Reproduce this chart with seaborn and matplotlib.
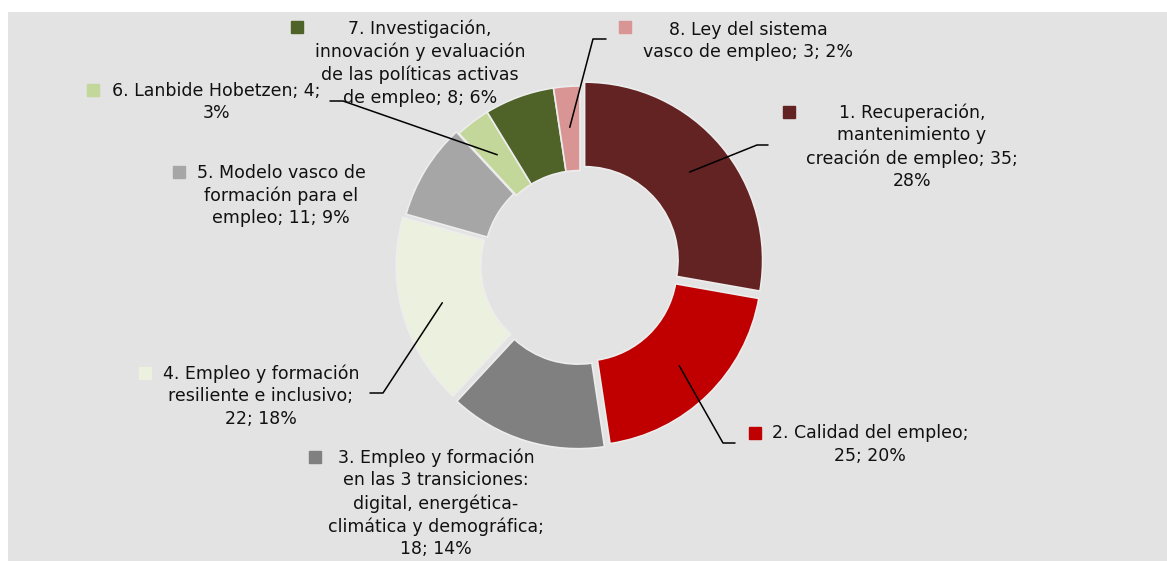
import numpy as np
import matplotlib
matplotlib.use("Agg")
import matplotlib.pyplot as plt
import seaborn as sns
from matplotlib.patches import Rectangle

# Data
labels = [
    "1. Recuperación,\nmantenimiento y\ncreación de empleo; 35;\n28%",
    "2. Calidad del empleo;\n25; 20%",
    "3. Empleo y formación\nen las 3 transiciones:\ndigital, energética-\nclimática y demográfica;\n18; 14%",
    "4. Empleo y formación\nresiliente e inclusivo;\n22; 18%",
    "5. Modelo vasco de\nformación para el\nempleo; 11; 9%",
    "6. Lanbide Hobetzen; 4;\n3%",
    "7. Investigación,\ninnovación y evaluación\nde las políticas activas\nde empleo; 8; 6%",
    "8. Ley del sistema\nvasco de empleo; 3; 2%",
]
values = [35, 25, 18, 22, 11, 4, 8, 3]
colors = ["#632323", "#C00000", "#808080", "#EBF1DE",
          "#A6A6A6", "#C4D79B", "#4F6228", "#D99594"]

sns.set_theme(style="white")
plt.rcParams['font.family'] = ['DejaVu Sans']

W, H = 1167, 561
BG = "#E3E3E3"

def P(x, y):
    # pixel (top-left origin) -> data coords
    return x, H - y

fig = plt.figure(figsize=(W / 100, H / 100), dpi=100)
fig.patch.set_facecolor("white")
ax = fig.add_axes([0, 0, 1, 1])
ax.set_facecolor("none")

cx, cy = P(580, 264)
R = 178
explode = [6, 5, 7, 6, 3, 0, 0, 0]  # in pixels
wedges, _ = ax.pie(values, colors=sns.color_palette(colors), startangle=90,
                   counterclock=False, center=(cx, cy), radius=R,
                   explode=explode,
                   wedgeprops=dict(width=R * 0.475, edgecolor="#EDEDED",
                                   linewidth=1.2))
ax.set_xlim(0, W)
ax.set_ylim(0, H)
ax.axis("off")
ax.add_patch(Rectangle(P(8, H), W - 8, H - 12, facecolor=BG,
                       edgecolor="none", zorder=-5))

# label layout: (center x, first line center y) in pixels
label_pos = [(912, 112), (870, 433), (436, 457), (261, 373),
             (281, 172), (216, 90), (420, 28), (748, 29)]
marker_pos = [(789, 112), (755, 433), (315, 457), (145, 373),
              (179, 172), (93, 90), (297, 27), (625, 27)]
# leader lines: elbow and end points in pixels (None = no leader)
leaders = [((757, 145), (768, 145)), ((723, 443), (735, 443)), None,
           ((383, 393), (370, 393)), None, ((343, 101), (330, 101)),
           None, ((593, 39), (606, 39))]

fs = 12.5
for i, w in enumerate(wedges):
    lx, ly = P(*label_pos[i])
    ax.text(lx, ly + 8.5, labels[i], ha="center", va="top", fontsize=fs,
            linespacing=1.32, color="#111111", multialignment="center")
    mx, my = P(*marker_pos[i])
    ax.plot([mx], [my], marker="s", markersize=8, color=colors[i],
            linestyle="none")
    if leaders[i] is not None:
        ang = np.deg2rad((w.theta1 + w.theta2) / 2)
        wx, wy = w.center
        r0 = R * 0.77
        sx, sy = wx + r0 * np.cos(ang), wy + r0 * np.sin(ang)
        ex, ey = P(*leaders[i][0])
        tx, ty = P(*leaders[i][1])
        ax.plot([sx, ex, tx], [sy, ey, ty], color="black", linewidth=1.1)

fig.savefig("out.png", dpi=100, facecolor=fig.get_facecolor())
